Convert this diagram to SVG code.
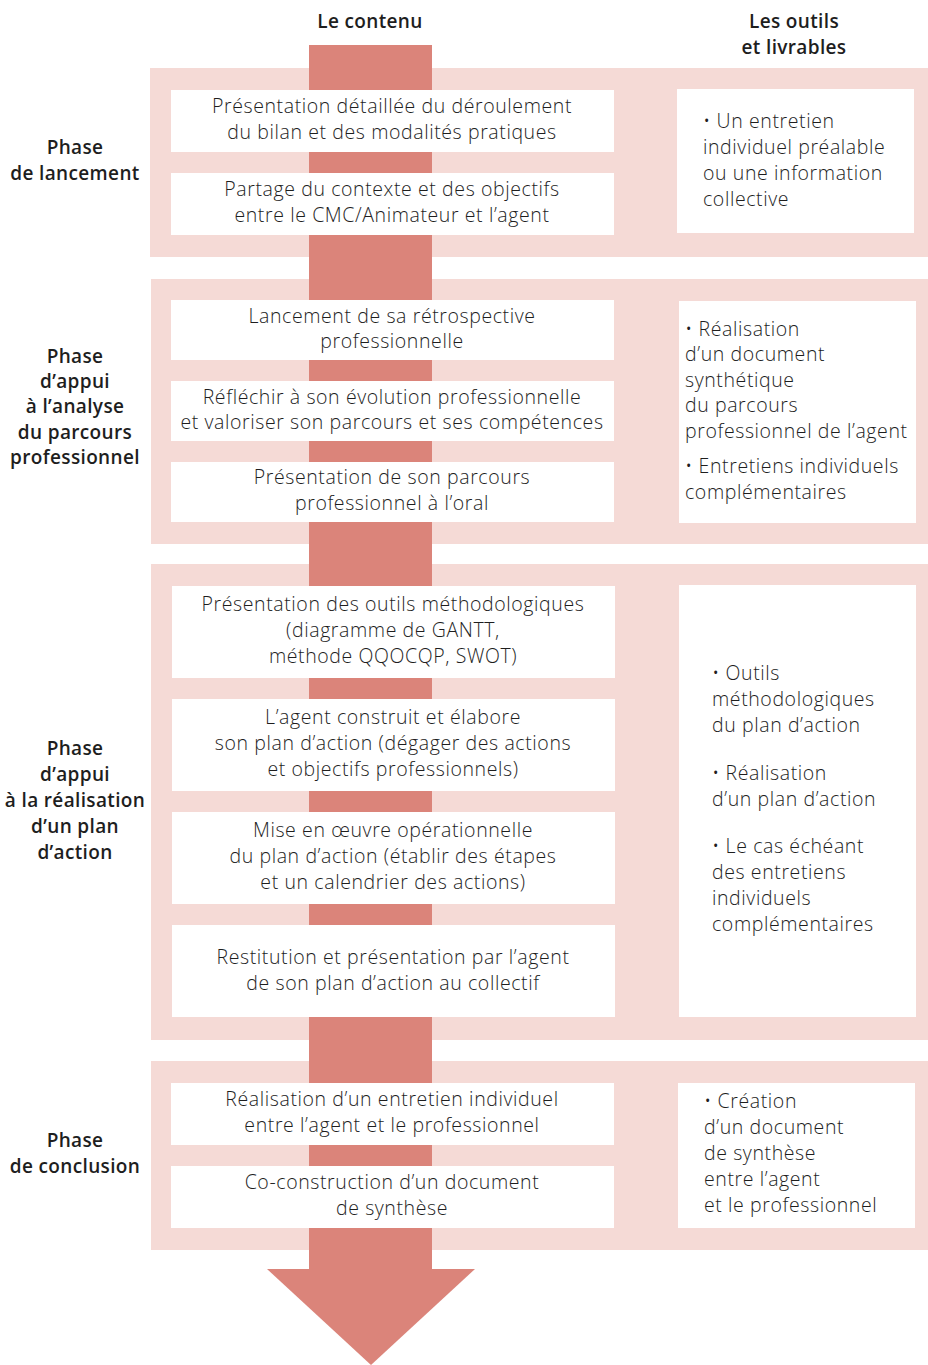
<svg xmlns="http://www.w3.org/2000/svg" width="928" height="1365" viewBox="0 0 928 1365">
<style>
.band{fill:#F5DAD6}
.box{fill:#FFFFFF}
.flow{fill:#DB847A}
text{font-family:"Open Sans","Noto Sans","Liberation Sans",sans-serif;fill:#1E1E1E;font-size:19.5px;letter-spacing:0.6px}
.c{text-anchor:middle;font-weight:300}
.r{font-weight:300}
.h{text-anchor:middle;font-weight:600;font-size:19px;letter-spacing:0.35px}
</style>
<rect width="928" height="1365" fill="#FFFFFF"/>
<g id="headers">
<text class="h" x="370" y="28">Le contenu</text>
<text class="h" x="794" y="28">Les outils</text>
<text class="h" x="794" y="54">et livrables</text>
</g>
<g id="bands">
<rect class="band" x="150" y="68" width="778" height="189"/>
<rect class="band" x="151" y="279" width="777" height="265"/>
<rect class="band" x="151" y="564" width="777" height="476"/>
<rect class="band" x="151" y="1061" width="777" height="189"/>
</g>
<g id="connectors">
<rect class="flow" x="309" y="45" width="123" height="1225"/>
<polygon class="flow" points="267,1269 475,1269 371,1365"/>
</g>
<g id="phase1">
<text class="h" x="75" y="154">Phase</text>
<text class="h" x="75" y="180">de lancement</text>
</g>
<g id="p1-step1"><rect class="box" x="171" y="90" width="443" height="62"/>
<text class="c" x="392" y="113">Présentation détaillée du déroulement</text>
<text class="c" x="392" y="139">du bilan et des modalités pratiques</text></g>
<g id="p1-step2"><rect class="box" x="171" y="173" width="443" height="62"/>
<text class="c" x="392" y="196">Partage du contexte et des objectifs</text>
<text class="c" x="392" y="222">entre le CMC/Animateur et l’agent</text></g>
<g id="p1-tools"><rect class="box" x="677" y="89" width="237" height="144"/>
<text class="r" x="703" y="128">• Un entretien</text>
<text class="r" x="703" y="154">individuel préalable</text>
<text class="r" x="703" y="180">ou une information</text>
<text class="r" x="703" y="206">collective</text></g>

<g id="phase2">
<text class="h" x="75" y="363">Phase</text>
<text class="h" x="75" y="388">d’appui</text>
<text class="h" x="75" y="413">à l’analyse</text>
<text class="h" x="75" y="439">du parcours</text>
<text class="h" x="75" y="464">professionnel</text>
</g>
<g id="p2-step1"><rect class="box" x="171" y="300" width="443" height="60"/>
<text class="c" x="392" y="323">Lancement de sa rétrospective</text>
<text class="c" x="392" y="348">professionnelle</text></g>
<g id="p2-step2"><rect class="box" x="171" y="381" width="443" height="60"/>
<text class="c" x="392" y="404">Réfléchir à son évolution professionnelle</text>
<text class="c" x="392" y="429">et valoriser son parcours et ses compétences</text></g>
<g id="p2-step3"><rect class="box" x="171" y="462" width="443" height="60"/>
<text class="c" x="392" y="484">Présentation de son parcours</text>
<text class="c" x="392" y="510">professionnel à l’oral</text></g>
<g id="p2-tools"><rect class="box" x="679" y="301" width="237" height="222"/>
<text class="r" x="685" y="336">• Réalisation</text>
<text class="r" x="685" y="361">d’un document</text>
<text class="r" x="685" y="387">synthétique</text>
<text class="r" x="685" y="412">du parcours</text>
<text class="r" x="685" y="438">professionnel de l’agent</text>
<text class="r" x="685" y="473">• Entretiens individuels</text>
<text class="r" x="685" y="499">complémentaires</text></g>

<g id="phase3">
<text class="h" x="75" y="755">Phase</text>
<text class="h" x="75" y="781">d’appui</text>
<text class="h" x="75" y="807">à la réalisation</text>
<text class="h" x="75" y="833">d’un plan</text>
<text class="h" x="75" y="859">d’action</text>
</g>
<g id="p3-step1"><rect class="box" x="172" y="586" width="443" height="92"/>
<text class="c" x="393" y="611">Présentation des outils méthodologiques</text>
<text class="c" x="393" y="637">(diagramme de GANTT,</text>
<text class="c" x="393" y="663">méthode QQOCQP, SWOT)</text></g>
<g id="p3-step2"><rect class="box" x="172" y="699" width="443" height="92"/>
<text class="c" x="393" y="724">L’agent construit et élabore</text>
<text class="c" x="393" y="750">son plan d’action (dégager des actions</text>
<text class="c" x="393" y="776">et objectifs professionnels)</text></g>
<g id="p3-step3"><rect class="box" x="172" y="812" width="443" height="92"/>
<text class="c" x="393" y="837">Mise en œuvre opérationnelle</text>
<text class="c" x="393" y="863">du plan d’action (établir des étapes</text>
<text class="c" x="393" y="889">et un calendrier des actions)</text></g>
<g id="p3-step4"><rect class="box" x="172" y="925" width="443" height="92"/>
<text class="c" x="393" y="964">Restitution et présentation par l’agent</text>
<text class="c" x="393" y="990">de son plan d’action au collectif</text></g>
<g id="p3-tools"><rect class="box" x="679" y="585" width="237" height="432"/>
<text class="r" x="712" y="680">• Outils</text>
<text class="r" x="712" y="706">méthodologiques</text>
<text class="r" x="712" y="732">du plan d’action</text>
<text class="r" x="712" y="780">• Réalisation</text>
<text class="r" x="712" y="806">d’un plan d’action</text>
<text class="r" x="712" y="853">• Le cas échéant</text>
<text class="r" x="712" y="879">des entretiens</text>
<text class="r" x="712" y="905">individuels</text>
<text class="r" x="712" y="931">complémentaires</text></g>

<g id="phase4">
<text class="h" x="75" y="1147">Phase</text>
<text class="h" x="75" y="1173">de conclusion</text>
</g>
<g id="p4-step1"><rect class="box" x="171" y="1083" width="443" height="62"/>
<text class="c" x="392" y="1106">Réalisation d’un entretien individuel</text>
<text class="c" x="392" y="1132">entre l’agent et le professionnel</text></g>
<g id="p4-step2"><rect class="box" x="171" y="1166" width="443" height="62"/>
<text class="c" x="392" y="1189">Co-construction d’un document</text>
<text class="c" x="392" y="1215">de synthèse</text></g>
<g id="p4-tools"><rect class="box" x="678" y="1083" width="237" height="145"/>
<text class="r" x="704" y="1108">• Création</text>
<text class="r" x="704" y="1134">d’un document</text>
<text class="r" x="704" y="1160">de synthèse</text>
<text class="r" x="704" y="1186">entre l’agent</text>
<text class="r" x="704" y="1212">et le professionnel</text></g>
</svg>
